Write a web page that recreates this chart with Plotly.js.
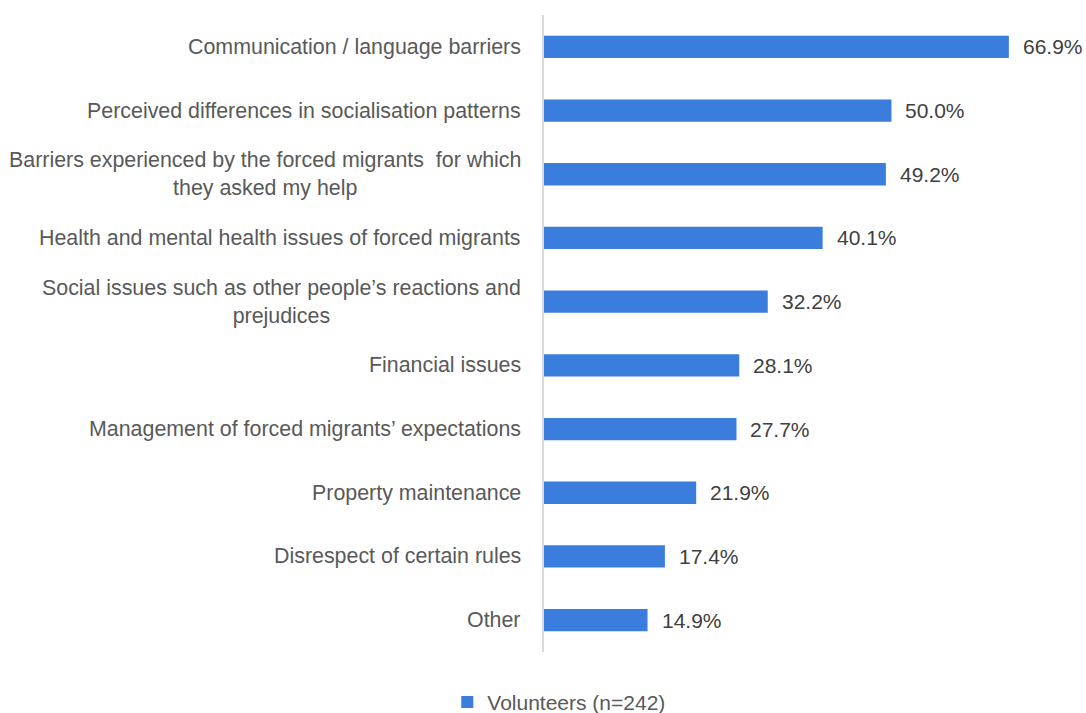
<!DOCTYPE html>
<html><head><meta charset="utf-8">
<script src="https://cdn.plot.ly/plotly-3.0.1.min.js"></script>
<style>body{margin:0;background:#fff}#c{width:1086px;height:713px}</style>
</head><body><div id="c"></div>
<script>
var categories = [
  "Communication / language barriers",
  "Perceived differences in socialisation patterns",
  "Barriers experienced by the forced migrants  for which<br>they asked my help",
  "Health and mental health issues of forced migrants",
  "Social issues such as other people’s reactions and<br>prejudices",
  "Financial issues",
  "Management of forced migrants’ expectations",
  "Property maintenance",
  "Disrespect of certain rules",
  "Other"
];
var values = [66.9, 50.0, 49.2, 40.1, 32.2, 28.1, 27.7, 21.9, 17.4, 14.9];
var seriesName = "Volunteers (n=242)";

var labelFont = {family: "Liberation Sans, Arial, sans-serif", size: 21.4, color: "#595959"};
var valueFont = {family: "Liberation Sans, Arial, sans-serif", size: 21, color: "#404040"};

var trace = {
  type: "bar", orientation: "h",
  x: values, y: categories,
  name: seriesName,
  marker: {color: "#3A7DDD"},
  showlegend: true,
  hoverinfo: "none"
};

var annotations = [];
categories.forEach(function(c, i){
  annotations.push({
    xref: "paper", yref: "y", x: 0, y: c, text: c,
    xanchor: "right", yanchor: "middle", align: "center",
    xshift: -21, showarrow: false, font: labelFont
  });
  annotations.push({
    xref: "x", yref: "y", x: values[i], y: c, text: values[i].toFixed(1) + "%",
    xanchor: "left", yanchor: "middle", xshift: 12, showarrow: false, font: valueFont
  });
});

var layout = {
  width: 1086, height: 713,
  margin: {l: 544, r: 0, t: 15, b: 61},
  paper_bgcolor: "#ffffff", plot_bgcolor: "#ffffff",
  bargap: 0.65,
  xaxis: {range: [0, 78], showgrid: false, zeroline: false, showticklabels: false, showline: false, ticks: ""},
  yaxis: {autorange: "reversed", showticklabels: false, ticks: "", showgrid: false, zeroline: false,
          showline: true, linecolor: "#d9d9d9", linewidth: 2},
  legend: {orientation: "h", xref: "container", yref: "container", x: 0.515, y: 0.015,
           xanchor: "center", yanchor: "middle", itemwidth: 30,
           font: {family: "Liberation Sans, Arial, sans-serif", size: 21, color: "#595959"}},
  annotations: annotations
};
Plotly.newPlot("c", [trace], layout, {displayModeBar: false, staticPlot: true});
</script></body></html>
